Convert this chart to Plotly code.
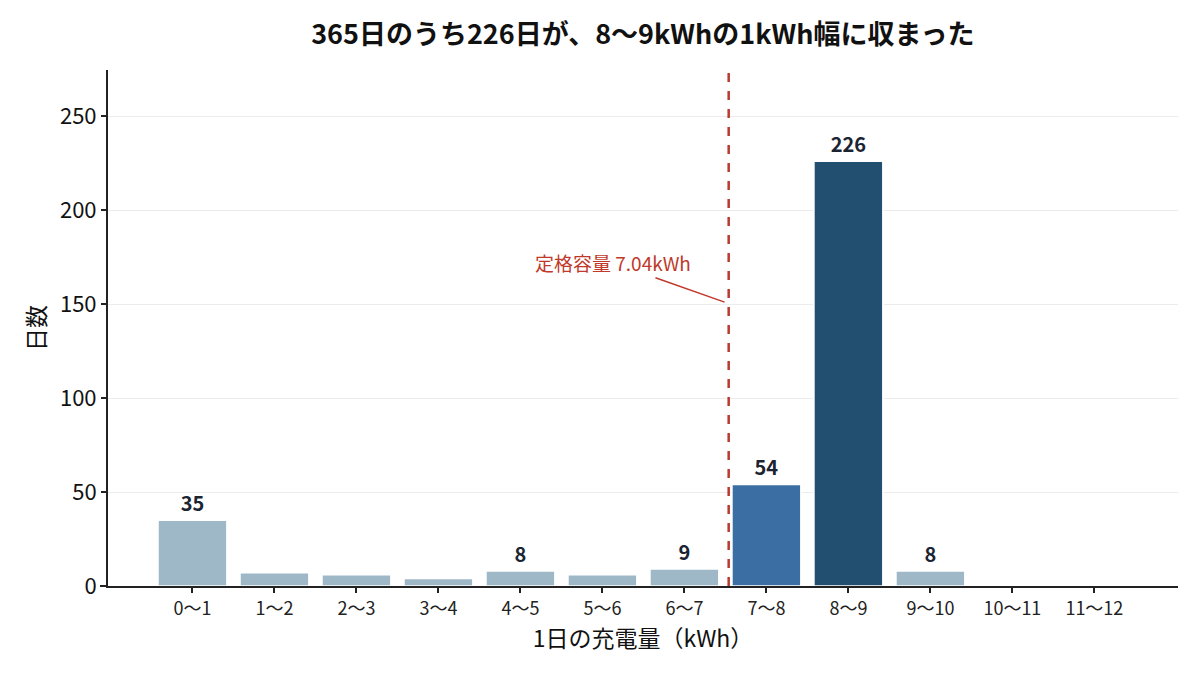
import plotly.graph_objects as go

categories = ["0〜1", "1〜2", "2〜3", "3〜4", "4〜5", "5〜6",
              "6〜7", "7〜8", "8〜9", "9〜10", "10〜11", "11〜12"]
days = [35, 7, 6, 4, 8, 6, 9, 54, 226, 8, 0, 0]
rated_kwh = 7.04

# 強調する区間
bar_colors = []
for c in categories:
    if c == "8〜9":
        bar_colors.append("#224f6f")
    elif c == "7〜8":
        bar_colors.append("#3b6fa3")
    else:
        bar_colors.append("#9fb8c8")

labels = [str(v) if v >= 8 else "" for v in days]

font = "Noto Sans CJK JP"

fig = go.Figure()
fig.add_trace(go.Bar(
    x=categories, y=days, text=labels,
    textposition="outside", cliponaxis=False,
    textfont=dict(family=font, size=20, color="#1b2431", weight="bold"),
    marker=dict(color=bar_colors, line=dict(color="white", width=1.5)),
    width=0.84,
))

# 定格容量の線（区間の中心が x+0.5 kWh）
fig.add_shape(type="line", xref="x", yref="paper",
              x0=rated_kwh - 0.5, x1=rated_kwh - 0.5, y0=0, y1=1,
              line=dict(color="#b83a30", width=2.5, dash="dash"))
# x軸の線を少し左へ延長
fig.add_shape(type="line", xref="paper", yref="paper",
              x0=-0.0075, x1=0, y0=0, y1=0, layer="below",
              line=dict(color="#222222", width=2))
fig.add_annotation(x=rated_kwh - 0.55, y=151, ax=5.13, ay=172,
                   xref="x", yref="y", axref="x", ayref="y",
                   text="定格容量 7.04kWh", showarrow=True, arrowhead=0,
                   arrowwidth=1.5, arrowcolor="#c0392b",
                   font=dict(family=font, size=19, color="#c0392b"))

fig.update_layout(
    width=1200, height=675,
    paper_bgcolor="white", plot_bgcolor="white",
    margin=dict(l=100, r=30, t=62, b=97),
    font=dict(family=font, color="#111111"),
    title=dict(text="<b>365日のうち226日が、8〜9kWhの1kWh幅に収まった</b>",
               x=0.529, xanchor="center", y=0.96, yanchor="middle",
               font=dict(size=27, color="#111111")),
    showlegend=False,
)
fig.update_xaxes(
    type="category", range=[-1.03, 12.02],
    showline=True, linecolor="#222222", linewidth=2,
    ticks="outside", ticklen=5, tickcolor="#222222", tickwidth=1.5,
    tickfont=dict(size=18, color="#222222"),
    title=dict(text="1日の充電量（kWh）", font=dict(size=23, color="#111111"), standoff=6),
    showgrid=False, layer="below traces",
)
fig.update_yaxes(
    range=[0, 274.5], tickvals=[0, 50, 100, 150, 200, 250],
    showline=True, linecolor="#222222", linewidth=2,
    ticks="outside", ticklen=5, tickcolor="#222222", tickwidth=1.5,
    tickfont=dict(size=22, color="#111111"),
    title=dict(text="日数", font=dict(size=23, color="#111111"), standoff=8),
    showgrid=True, gridcolor="#ececec", gridwidth=1,
    zeroline=False,
)

fig.write_html("out.html")
